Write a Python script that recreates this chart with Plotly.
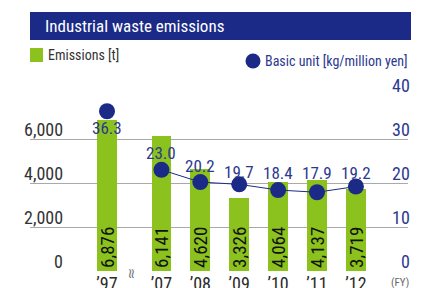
import plotly.graph_objects as go

# ---- data ----
years = ["’97", "’07", "’08", "’09", "’10", "’11", "’12"]
emissions = [6876, 6141, 4620, 3326, 4064, 4137, 3719]
basic_unit = [36.3, 23.0, 20.2, 19.7, 18.4, 17.9, 19.2]
left_ticks = [0, 2000, 4000, 6000]
left_tick_text = ["0", "2,000", "4,000", "6,000"]
right_ticks = [0, 10, 20, 30, 40]
right_tick_text = ["0", "10", "20", "30", "40"]

# ---- styling / layout ----
W, H = 445, 288
L, R, T, B = 30, 408, 95, 271
def px(x):
    return (x - L) / (R - L)
def py(y):
    return (B - y) / (B - T)

GAP = 0.4  # extra spacing for axis break after first year
xpos = [i + (GAP if i > 0 else 0) for i in range(len(years))]
# vertical pixel offsets of value labels relative to their markers
label_shift = [-17, 17, 16, 12, 17, 19, 14]

FONT = "Roboto Condensed, DejaVu Sans Condensed, sans-serif"
GREEN = "#8cc21e"
NAVY = "#1b2a86"
NAVY_TXT = "#2b3990"
DARK = "#2a2a2a"

fig = go.Figure()

fig.add_trace(go.Bar(
    x=xpos, y=emissions, width=0.51,
    marker=dict(color=GREEN, line=dict(width=0)),
    text=[f"{v:,}" for v in emissions],
    textposition="inside", insidetextanchor="start", textangle=-90,
    insidetextfont=dict(family=FONT, size=19, color="#111"),
    constraintext="none",
    showlegend=False, hoverinfo="skip",
))

fig.add_trace(go.Scatter(
    x=xpos[:1], y=basic_unit[:1], yaxis="y2", mode="markers",
    marker=dict(size=16, color=NAVY),
    showlegend=False, hoverinfo="skip",
))
fig.add_trace(go.Scatter(
    x=xpos[1:], y=basic_unit[1:], yaxis="y2", mode="lines+markers",
    line=dict(color=NAVY, width=1),
    marker=dict(size=16, color=NAVY),
    showlegend=False, hoverinfo="skip",
))

ann = []
for xv, v, s in zip(xpos, basic_unit, label_shift):
    ann.append(dict(x=xv, y=v, xref="x", yref="y2", xanchor="center", yanchor="middle",
                    yshift=s, text=f"{v:.1f}", showarrow=False,
                    font=dict(family=FONT, size=17, color=NAVY_TXT)))
ann.append(dict(x=px(43), y=py(26), xref="paper", yref="paper", xanchor="left", yanchor="middle",
                text="Industrial waste emissions", showarrow=False,
                font=dict(family=FONT, size=17, color="white")))
ann.append(dict(x=px(46), y=py(55), xref="paper", yref="paper", xanchor="left", yanchor="middle",
                text="Emissions [t]", showarrow=False, font=dict(family=FONT, size=14, color="#333")))
ann.append(dict(x=px(410), y=py(61), xref="paper", yref="paper", xanchor="right", yanchor="middle",
                text="Basic unit [kg/million yen]", showarrow=False, font=dict(family=FONT, size=14, color=NAVY_TXT)))
for v, t in zip(left_ticks, left_tick_text):
    ann.append(dict(x=px(65), y=v, xref="paper", yref="y", xanchor="right", yanchor="bottom",
                    yshift=-3, text=t, showarrow=False, font=dict(family=FONT, size=18, color="#333")))
for v, t in zip(right_ticks, right_tick_text):
    ann.append(dict(x=px(412), y=v, xref="paper", yref="y2", xanchor="right", yanchor="bottom",
                    yshift=-3, text=t, showarrow=False, font=dict(family=FONT, size=18, color=NAVY_TXT)))
ann.append(dict(x=px(400), y=py(282), xref="paper", yref="paper", xanchor="center", yanchor="middle",
                text="(FY)", showarrow=False, font=dict(family=FONT, size=11, color="#666")))
ann.append(dict(x=(xpos[0] + xpos[1]) / 2 - 0.05, y=py(274), xref="x", yref="paper", xanchor="center", yanchor="middle",
                text="≈", textangle=90, showarrow=False, font=dict(family="DejaVu Sans", size=14, color="#777")))

shapes = [
    dict(type="rect", xref="paper", yref="paper", x0=px(30), x1=px(411), y0=py(40), y1=py(12),
         fillcolor="#1b2a87", line=dict(width=0), layer="below"),
    dict(type="rect", xref="paper", yref="paper", x0=px(30), x1=px(43), y0=py(62), y1=py(48),
         fillcolor=GREEN, line=dict(width=0)),
    dict(type="circle", xref="paper", yref="paper", x0=px(245.5), x1=px(260.5), y0=py(68.5), y1=py(53.5),
         fillcolor=NAVY, line=dict(width=0)),
]

fig.update_layout(
    width=W, height=H,
    margin=dict(l=L, r=W - R, t=T, b=H - B, pad=0, autoexpand=False),
    paper_bgcolor="white", plot_bgcolor="white",
    bargap=0,
    xaxis=dict(range=[-1.98, 7.74], tickvals=xpos, ticktext=years, showgrid=False, zeroline=False,
               showline=False, ticks="", automargin=False,
               tickfont=dict(family=FONT, size=18, color=DARK)),
    yaxis=dict(range=[0, 8000], dtick=2000, showgrid=True, gridcolor="#a9a9a9", gridwidth=1,
               zeroline=False, showticklabels=False, showline=False, automargin=False),
    yaxis2=dict(range=[0, 40], overlaying="y", side="right", showgrid=False, zeroline=False,
                showticklabels=False, showline=False, automargin=False),
    annotations=ann, shapes=shapes,
    showlegend=False,
)

fig.write_html("out.html", config={"displayModeBar": False},
               post_script="document.body.style.margin='0px';document.body.style.padding='0px';")
